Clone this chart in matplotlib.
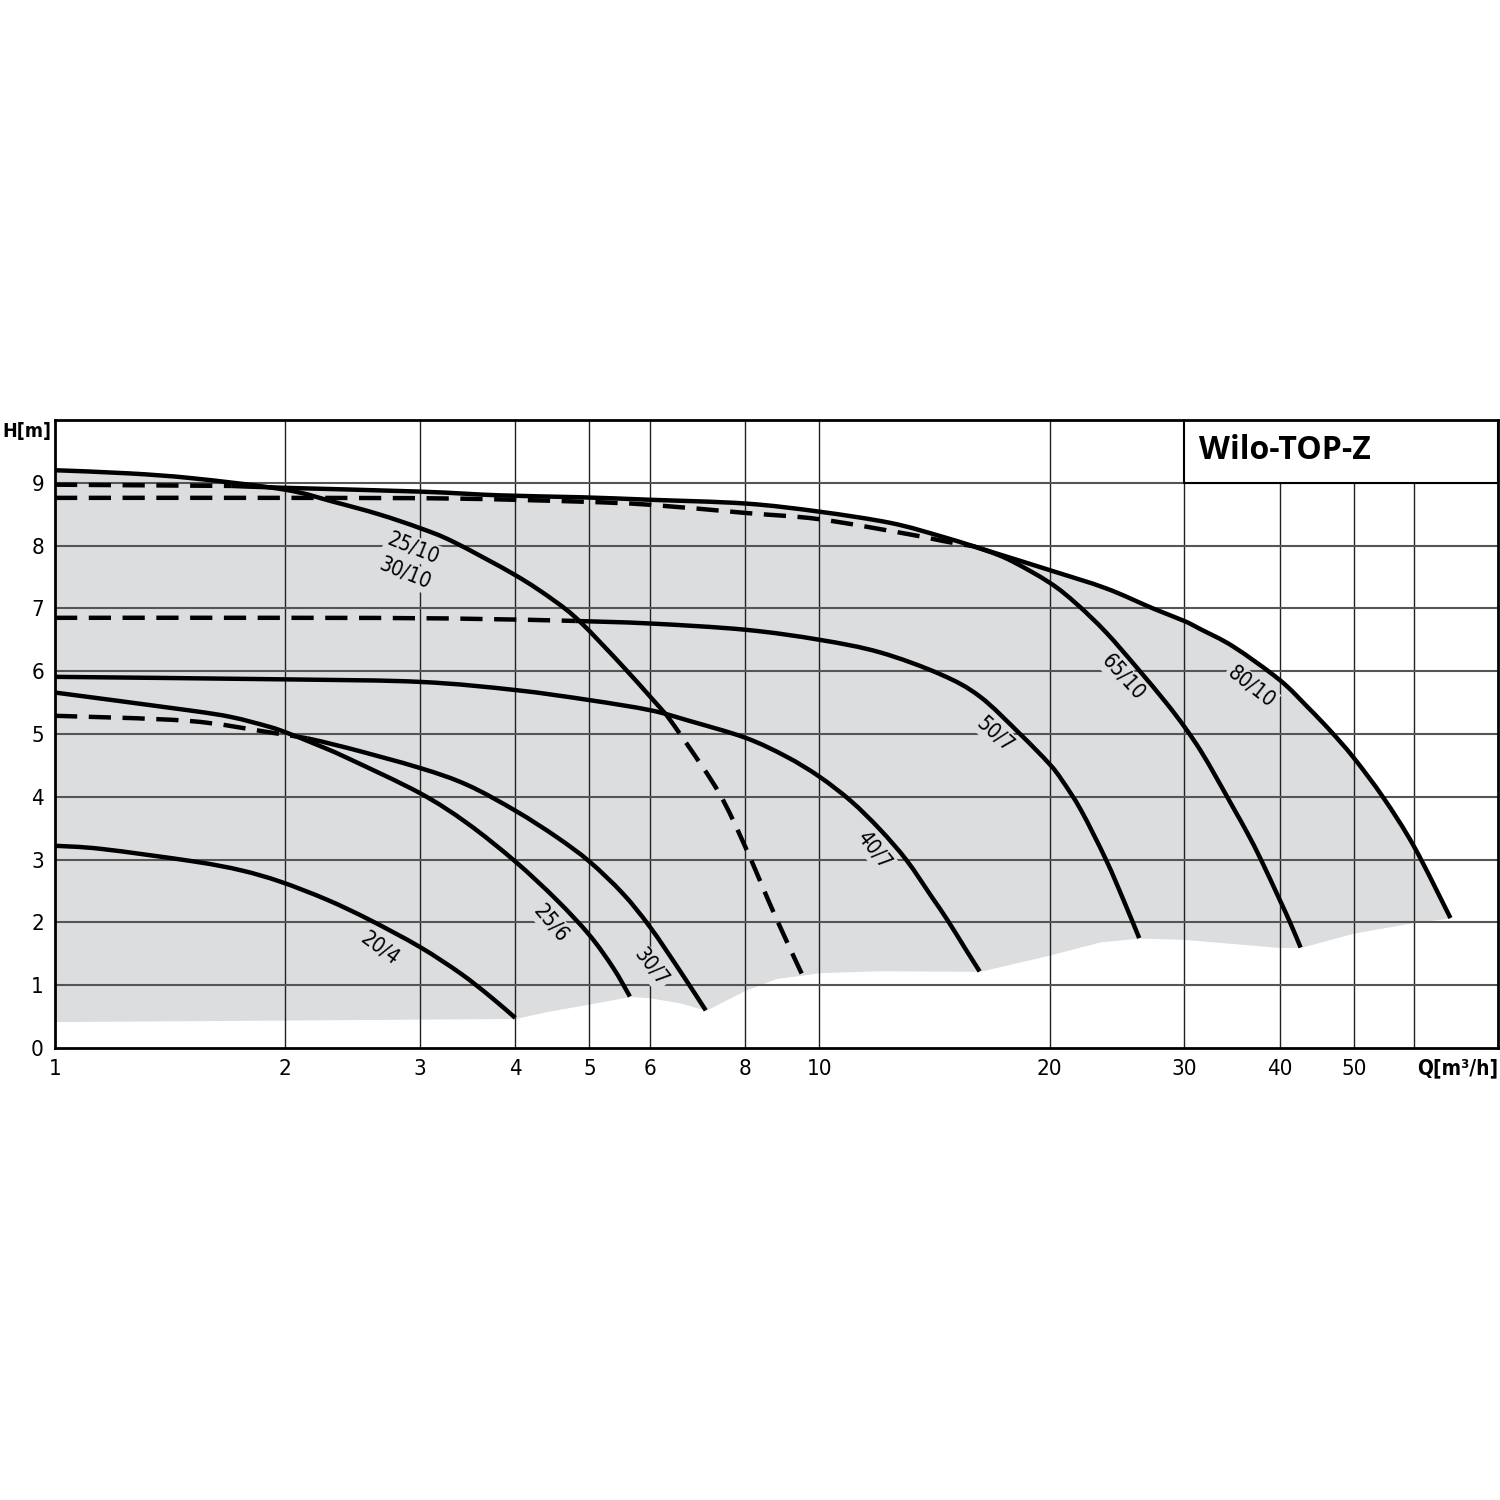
import numpy as np
import matplotlib
matplotlib.use("Agg")
import matplotlib.pyplot as plt
from matplotlib.patches import Rectangle, PathPatch
from matplotlib.path import Path
from matplotlib.ticker import FixedLocator, NullLocator

plt.rcParams['font.family'] = ['DejaVu Sans']
plt.rcParams['font.stretch'] = 'condensed'

# pump curves, Q [m3/h] vs H [m]
q_20_4 = [1, 1.15, 1.52, 1.75, 1.97, 2.27, 2.58, 3, 3.39, 3.71, 4.0]
h_20_4 = [3.22, 3.17, 2.97, 2.83, 2.65, 2.36, 2.04, 1.61, 1.19, 0.82, 0.48]

q_25_6 = [1, 1.49, 1.7, 1.9, 2.0, 2.2, 2.41, 3, 3.46, 4, 4.53, 5, 5.37, 5.65]
h_25_6 = [5.66, 5.38, 5.27, 5.12, 5.03, 4.83, 4.62, 4.06, 3.58, 2.97, 2.36, 1.8, 1.28, 0.82]

q_30_7_dash = [1, 1.49, 1.9, 2.14]
h_30_7_dash = [5.29, 5.21, 5.03, 4.93]
q_30_7 = [2.14, 2.41, 3, 3.46, 4, 4.53, 5, 5.53, 6, 6.56, 7.1]
h_30_7 = [4.93, 4.78, 4.46, 4.19, 3.78, 3.36, 2.97, 2.46, 1.93, 1.24, 0.6]

q_40_7 = [1, 2, 3, 4, 5, 6, 6.71, 8, 9.05, 10, 11, 12, 13, 14, 14.7, 15.5, 16.2]
h_40_7 = [5.91, 5.87, 5.83, 5.7, 5.54, 5.38, 5.22, 4.94, 4.64, 4.32, 3.93, 3.48, 2.99, 2.42,
          2.04, 1.59, 1.22]

q_50_7_dash = [1, 2, 3.28, 4.8]
h_50_7_dash = [6.85, 6.85, 6.84, 6.80]
q_50_7 = [4.8, 6, 8, 10, 12, 14.4, 16.2, 18.3, 20, 20.8, 22, 23.7, 25, 26.2]
h_50_7 = [6.80, 6.76, 6.66, 6.5, 6.3, 5.95, 5.6, 5.0, 4.52, 4.25, 3.78, 3.0, 2.35, 1.75]

q_25_10 = [1, 1.25, 1.52, 2, 2.31, 2.65, 3, 3.32, 4, 4.49, 4.86, 5.49, 6, 6.31]
h_25_10 = [9.2, 9.15, 9.07, 8.89, 8.70, 8.50, 8.28, 8.06, 7.53, 7.13, 6.79, 6.12, 5.6, 5.3]
q_25_10_dash = [6.31, 6.71, 7.4, 8, 8.76, 9.5]
h_25_10_dash = [5.3, 4.84, 4.05, 3.2, 2.09, 1.16]

q_80_10_dash = [1, 1.7]
h_80_10_dash = [8.97, 8.95]
q_80_10 = [1.7, 2, 3, 3.82, 4.86, 6, 8, 10, 12.4, 14.4, 15.9, 17.2, 20, 23.7, 27.3, 30, 31.5,
           34.8, 40, 43.5, 46.6, 50, 54.7, 60, 66.9]
h_80_10 = [8.95, 8.92, 8.86, 8.8, 8.77, 8.73, 8.67, 8.54, 8.36, 8.15, 7.99, 7.86, 7.61, 7.32,
           7.0, 6.8, 6.67, 6.39, 5.86, 5.43, 5.05, 4.62, 3.98, 3.2, 2.07]

q_65_10_dash = [1, 2, 3.28, 4.86, 6, 8, 10, 13.1, 14.7, 15.9]
h_65_10_dash = [8.76, 8.76, 8.75, 8.70, 8.65, 8.52, 8.42, 8.18, 8.06, 7.99]
q_65_10 = [15.9, 17.6, 20, 21.7, 23.7, 26.0, 28.4, 30, 31.5, 33.0, 34.8, 36.3, 37.8, 40, 41.3,
           42.6]
h_65_10 = [7.99, 7.79, 7.41, 7.07, 6.62, 6.06, 5.5, 5.12, 4.74, 4.32, 3.82, 3.42, 3.0, 2.36,
           1.99, 1.6]

# lower edge of the grey working range
low_q = [1, 4.0, 4.4, 5.0, 5.65, 6.0, 6.56, 7.1, 8, 8.8, 9.5, 10, 12, 16.2, 20, 23.3, 26.2,
         30, 40, 42.6, 50, 60, 66.9]
low_h = [0.42, 0.47, 0.58, 0.7, 0.82, 0.8, 0.72, 0.6, 0.92, 1.11, 1.16, 1.2, 1.23, 1.22, 1.48,
         1.69, 1.75, 1.73, 1.6, 1.6, 1.83, 2.0, 2.07]

# curve labels: text, Q, H, angle
labels = [("20/4", 2.66, 1.59, -36), ("25/6", 4.46, 1.99, -50), ("30/7", 6.02, 1.29, -52),
          ("40/7", 11.8, 3.15, -52), ("50/7", 17.0, 5.0, -42), ("65/10", 25.0, 5.9, -48),
          ("80/10", 36.7, 5.75, -38), ("25/10", 2.94, 7.96, -22), ("30/10", 2.87, 7.56, -22)]

x_ticks = [1, 2, 3, 4, 5, 6, 8, 10, 20, 30, 40, 50, 60]
x_tick_labels = ["1", "2", "3", "4", "5", "6", "8", "10", "20", "30", "40", "50", ""]
y_ticks = [0, 1, 2, 3, 4, 5, 6, 7, 8, 9]

GREY = "#dcdddf"
solid = [(q_20_4, h_20_4), (q_25_6, h_25_6), (q_30_7, h_30_7), (q_40_7, h_40_7),
         (q_50_7, h_50_7), (q_25_10, h_25_10), (q_80_10, h_80_10), (q_65_10, h_65_10)]
dashed = [(q_30_7_dash, h_30_7_dash), (q_50_7_dash, h_50_7_dash),
          (q_25_10_dash, h_25_10_dash), (q_80_10_dash, h_80_10_dash),
          (q_65_10_dash, h_65_10_dash)]


def smooth_path(q, h):
    """Bezier path (Catmull-Rom) through the read points, built in log-Q space."""
    pts = np.column_stack([np.log10(q), h])
    n = len(pts)
    verts = [pts[0]]
    codes = [Path.MOVETO]
    for i in range(n - 1):
        p0 = pts[max(i - 1, 0)]
        p1 = pts[i]
        p2 = pts[i + 1]
        p3 = pts[min(i + 2, n - 1)]
        verts += [p1 + (p2 - p0) / 6.0, p2 - (p3 - p1) / 6.0, p2]
        codes += [Path.CURVE4] * 3
    verts = np.array(verts)
    verts[:, 0] = 10 ** verts[:, 0]
    return Path(verts, codes)


fig = plt.figure(figsize=(15, 15), dpi=100)
ax = fig.add_axes([55 / 1500, 452 / 1500, 1443 / 1500, 628 / 1500])
ax.set_xscale('log')
ax.set_xlim(1, 77.2)
ax.set_ylim(0, 10)

# grey area: upper envelope of all curves down to the lower edge
grid_q = np.logspace(0, np.log10(66.9), 800)
tops = []
for q, h in solid + dashed:
    v = np.interp(np.log10(grid_q), np.log10(q), h, left=np.nan, right=np.nan)
    tops.append(v)
top = np.nanmax(np.vstack(tops), axis=0)
bottom = np.interp(np.log10(grid_q), np.log10(low_q), low_h)
ax.fill_between(grid_q, bottom, top, color=GREY, lw=0, zorder=1)

# grid
for xv in x_ticks[1:]:
    ax.axvline(xv, color="#222222", lw=1.0, zorder=2)
for yv in y_ticks[1:]:
    ax.axhline(yv, color="#555555", lw=1.5, zorder=2)

for q, h in solid:
    ax.add_patch(PathPatch(smooth_path(q, h), fill=False, ec="black", lw=3.2,
                           capstyle='butt', zorder=4))
for q, h in dashed:
    ax.add_patch(PathPatch(smooth_path(q, h), fill=False, ec="black", lw=3.2,
                           ls=(0, (5, 2.6)), capstyle='butt', zorder=4))

for txt, q, h, ang in labels:
    ax.text(q, h, txt, rotation=ang, ha='center', va='center', fontsize=15,
            rotation_mode='anchor', zorder=3,
            bbox=dict(fc=GREY, ec='none', pad=1.5))

# title box
ax.add_patch(Rectangle((30, 9.0), 77.2 - 30, 1.0, fc='white', ec='black', lw=1.5, zorder=5))
ax.text(31.4, 9.52, "Wilo-TOP-Z", fontsize=23, fontweight='bold', ha='left', va='center',
        family=['Open Sans', 'DejaVu Sans'], stretch='normal', zorder=6)

ax.xaxis.set_major_locator(FixedLocator(x_ticks))
ax.xaxis.set_minor_locator(NullLocator())
ax.set_xticklabels(x_tick_labels)
ax.set_yticks(y_ticks)
ax.tick_params(length=0, labelsize=16, pad=8)
for s in ax.spines.values():
    s.set_linewidth(2)
    s.set_zorder(6)

fig.text(2 / 1500, 1 - 432 / 1500, "H[m]", ha='left', va='center',
         fontsize=14, fontweight='bold')
ax.text(1.0, -0.032, "Q[m³/h]", transform=ax.transAxes, ha='right', va='center',
        fontsize=15, fontweight='bold')

fig.savefig("out.png", dpi=100)
